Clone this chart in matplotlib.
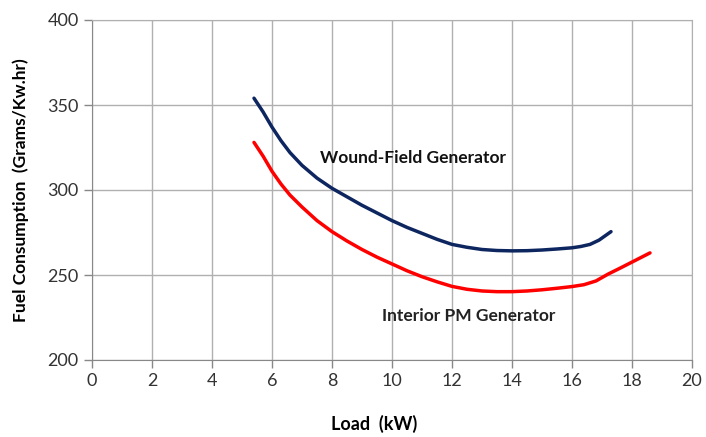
import numpy as np
import matplotlib.pyplot as plt

plt.rcParams['font.family'] = ['Lato', 'DejaVu Sans']

# Wound-field generator fuel curve
wf_load = [5.4, 5.7, 6.0, 6.3, 6.6, 7.0, 7.5, 8.0, 8.5, 9.0, 9.5, 10.0, 10.5, 11.0, 11.5,
           12.0, 12.5, 13.0, 13.5, 14.0, 14.5, 15.0, 15.5, 16.0, 16.3, 16.6, 16.9, 17.1, 17.3]
wf_fuel = [354, 346, 337, 329, 322, 314.5, 307, 301, 296, 291, 286.5, 282, 278, 274.5, 271,
           268, 266.3, 265, 264.4, 264.2, 264.3, 264.7, 265.3, 266, 266.8, 268, 270.5, 273, 275.5]

# Interior PM generator fuel curve
pm_load = [5.4, 5.7, 6.0, 6.3, 6.6, 7.0, 7.5, 8.0, 8.5, 9.0, 9.5, 10.0, 10.5, 11.0, 11.5,
           12.0, 12.5, 13.0, 13.5, 14.0, 14.5, 15.0, 15.5, 16.0, 16.4, 16.8, 17.2, 17.6, 18.0,
           18.3, 18.6]
pm_fuel = [328, 320, 311, 303.5, 297, 290, 282, 275.5, 270, 265, 260.5, 256.5, 252.5, 249, 246,
           243.3, 241.6, 240.6, 240.2, 240.2, 240.6, 241.3, 242.2, 243.2, 244.3, 246.5, 250.5, 254, 257.6,
           260.3, 263]

xticks = np.arange(0, 21, 2)
yticks = np.arange(200, 401, 50)

fig = plt.figure(figsize=(7.06, 4.37), dpi=100)
ax = fig.add_axes([92 / 706, 1 - 360 / 437, 600 / 706, 340 / 437])

ax.plot(wf_load, wf_fuel, color='#0E2660', lw=2.5, solid_capstyle='round')
ax.plot(pm_load, pm_fuel, color='#FF0000', lw=2.5, solid_capstyle='round')

ax.text(7.6, 319, 'Wound-Field Generator', fontsize=12.5, fontweight='bold',
        va='center', ha='left', color='#111111')
ax.text(9.67, 226, 'Interior PM Generator', fontsize=12.5, fontweight='bold',
        va='center', ha='left', color='#222222')

ax.set_xlim(0, 20)
ax.set_ylim(200, 400)
ax.set_xticks(xticks)
ax.set_yticks(yticks)
ax.tick_params(labelsize=13, colors='#888888', labelcolor='#333333', length=6, width=1)
ax.grid(True, color='#B0B0B0', lw=1)
ax.set_axisbelow(True)
for side in ['left', 'bottom']:
    ax.spines[side].set_color('#888888')
for side in ['top', 'right']:
    ax.spines[side].set_color('#B0B0B0')

ax.set_xlabel('Load  (kW)', fontsize=13, fontweight='bold')
ax.xaxis.set_label_coords((374 - 92) / 600, -(415 - 360) / 340)
ax.set_ylabel('Fuel Consumption  (Grams/Kw.hr)', fontsize=12.5, fontweight='bold')
ax.yaxis.set_label_coords(-(92 - 29) / 600, 0.5)

fig.savefig('out.png', dpi=100)
